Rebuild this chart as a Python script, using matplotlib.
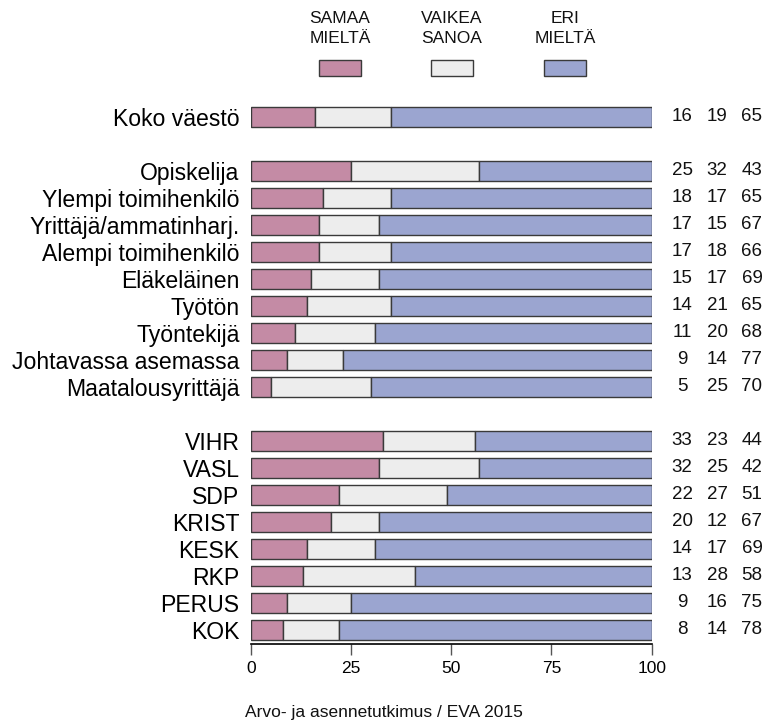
import matplotlib.pyplot as plt
from matplotlib.patches import Rectangle

plt.rcParams['font.family'] = ['Liberation Sans', 'DejaVu Sans']

categories = ["Koko väestö", None,
              "Opiskelija", "Ylempi toimihenkilö", "Yrittäjä/ammatinharj.",
              "Alempi toimihenkilö", "Eläkeläinen", "Työtön", "Työntekijä",
              "Johtavassa asemassa", "Maatalousyrittäjä", None,
              "VIHR", "VASL", "SDP", "KRIST", "KESK", "RKP", "PERUS", "KOK"]
samaa = [16, None, 25, 18, 17, 17, 15, 14, 11, 9, 5, None,
         33, 32, 22, 20, 14, 13, 9, 8]
vaikea = [19, None, 32, 17, 15, 18, 17, 21, 20, 14, 25, None,
          23, 25, 27, 12, 17, 28, 16, 14]
eri = [65, None, 43, 65, 67, 66, 69, 65, 68, 77, 70, None,
       44, 42, 51, 67, 69, 58, 75, 78]

series_names = ["SAMAA\nMIELTÄ", "VAIKEA\nSANOA", "ERI\nMIELTÄ"]
colors = ["#C48BA5", "#EDEDED", "#9BA5D0"]
edge = "#3a3a3a"

fig = plt.figure(figsize=(7.68, 7.2), dpi=100)
ax = fig.add_axes([250.7 / 768, (720 - 644) / 720, 401 / 768, (644 - 103.5) / 720])

rows = [i for i, c in enumerate(categories) if c is not None]
labels = [categories[i] for i in rows]
s = [samaa[i] for i in rows]
v = [vaikea[i] for i in rows]
e = [eri[i] for i in rows]

h = 0.76
ax.barh(rows, s, height=h, color=colors[0], edgecolor=edge, linewidth=1)
ax.barh(rows, v, left=s, height=h, color=colors[1], edgecolor=edge, linewidth=1)
left2 = [a + b for a, b in zip(s, v)]
rest = [100 - l for l in left2]
ax.barh(rows, rest, left=left2, height=h, color=colors[2], edgecolor=edge, linewidth=1)

ax.set_xlim(0, 100)
ax.set_ylim(19.52, -0.5)
ax.set_yticks(rows)
ax.set_yticklabels(labels, fontsize=16.6)
ax.tick_params(axis='y', length=0, pad=8)
ax.set_xticks([0, 25, 50, 75, 100])
ax.tick_params(axis='x', labelsize=12.5, length=8, width=1, color="#555555", pad=4)
for side in ["left", "right", "top"]:
    ax.spines[side].set_visible(False)
ax.spines["bottom"].set_linewidth(1.2)

# luvut oikealla
num_x = [107.6, 116.3, 125.0]
for r, a, b, c in zip(rows, s, v, e):
    for x, val in zip(num_x, (a, b, c)):
        ax.text(x, r, str(val), ha='center', va='center', fontsize=13.5,
                color="#111111", clip_on=False)

# selite
box_x = [319, 431, 544]
for bx, name, col in zip(box_x, series_names, colors):
    fig.patches.append(Rectangle((bx / 768, (720 - 76) / 720), 42 / 768, 16 / 720,
                                 transform=fig.transFigure, facecolor=col,
                                 edgecolor=edge, linewidth=1))
    fig.text((bx + 21) / 768, 1 - 28.5 / 720, name, ha='center', va='center',
             fontsize=12.5, linespacing=1.4, color="#111111")

fig.text(384 / 768, 1 - 712 / 720, "Arvo- ja asennetutkimus / EVA 2015",
         ha='center', va='center', fontsize=12.5, color="#111111")

fig.savefig("out.png", dpi=100)
